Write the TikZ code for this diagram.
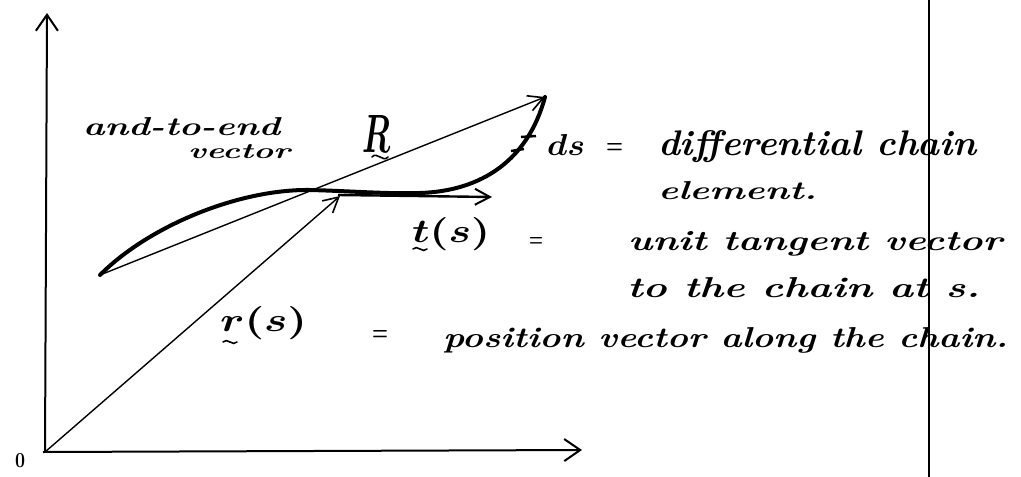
\documentclass[tikz,border=0pt]{standalone}
\usepackage{graphicx}
\usetikzlibrary{arrows.meta}
\newcommand\hw[3]{\resizebox{#1pt}{#2pt}{\bfseries\itshape #3}}
\newcommand\hm[3]{\resizebox{#1pt}{#2pt}{\boldmath$#3$}}
\tikzset{
  txt/.style={inner sep=0pt, outer sep=0pt, anchor=base west},
  axisline/.style={line width=2pt, -{Straight Barb[length=16pt,width=22pt,line width=2pt]}},
  thinvec/.style={line width=1.4pt, -{Straight Barb[length=15pt,width=16pt,line width=1.6pt]}},
  tanvec/.style={line width=2.4pt, -{Straight Barb[length=15pt,width=16pt,line width=2pt]}},
  chainline/.style={line width=4pt, line cap=round, line join=round},
  tickmark/.style={line width=2.5pt},
  tildemark/.style={line width=1.6pt, line cap=round},
}
\begin{document}
\begin{tikzpicture}[x=1pt,y=-1pt]
\useasboundingbox (0,0) rectangle (1021,477);
% coordinates
\coordinate (O) at (45,452);
\coordinate (Xstart) at (43,452);
\coordinate (Ytip) at (47,13);
\coordinate (Xtip) at (582,450);
\coordinate (rtip) at (340,196);
\coordinate (Rstart) at (100,275);
\coordinate (Rtip) at (545,97);
\coordinate (tstart) at (338,195);
\coordinate (ttip) at (492,197);
\coordinate (Ltop) at (929,0);
\coordinate (Lbot) at (929,477);
\coordinate (c1) at (310,190);
\coordinate (c2) at (420,193);
% axes
\draw[axisline] (O) -- (Ytip);
\draw[axisline] (Xstart) -- (Xtip);
\draw[line width=1.5pt] (Ltop) -- (Lbot);
% vectors
\draw[thinvec] (O) -- (rtip);
\draw[thinvec] (Rstart) -- (Rtip);
% chain
\draw[chainline] (Rstart) .. controls (150,225) and (240,189) .. (c1)
  .. controls (350,191) and (385,194) .. (c2)
  .. controls (482,191) and (528,160) .. (Rtip);
\draw[tanvec] (tstart) -- (ttip);
% ds ticks
\draw[tickmark] (521,137) -- (536,136);
\draw[tickmark] (511,151) -- (524,149);
% labels
\node[txt] (o) at (15,467) {\resizebox{10pt}{14pt}{\bfseries 0}};
\node[txt] (ete) at (83,135) {\hw{197}{18}{and-to-end}};
\node[txt] (etev) at (188,158) {\hw{102}{14}{vector}};
\node[txt] (R) at (362,152) {\hm{28}{37}{R}};
\node[txt] (ds) at (547,155) {\hm{38}{21}{ds}};
\node[txt] (eq1) at (606,153) {\resizebox{17pt}{10pt}{\bfseries =}};
\node[txt] (diff) at (658,155) {\hw{319}{25}{differential chain}};
\node[txt] (elem) at (658,199) {\hw{159}{18}{element.}};
\node[txt] (ts) at (412,242) {\hm{78}{25}{t(s)}};
\node[txt] (eq2) at (529,246) {\resizebox{14pt}{9pt}{\bfseries =}};
\node[txt] (unit) at (628,250) {\hw{374}{19}{unit tangent vector}};
\node[txt] (tochain) at (627,297) {\hw{353}{20}{to the chain at s.}};
\node[txt] (rs) at (220,331) {\hm{87}{25}{r(s)}};
\node[txt] (eq3) at (372,340) {\resizebox{16pt}{10pt}{\bfseries =}};
\node[txt] (pos) at (443,347) {\hw{565}{20}{position vector along the chain.}};
% under-tildes (vector marks)
\draw[tildemark] ([xshift=10pt,yshift=-5pt]R.base west) .. controls +(5,-6) and +(-5,6) .. +(16,0);
\draw[tildemark] ([xshift=1pt,yshift=-7pt]ts.base west) .. controls +(4,-5) and +(-4,5) .. +(14,0);
\draw[tildemark] ([xshift=3pt,yshift=-11pt]rs.base west) .. controls +(4,-5) and +(-4,5) .. +(14,0);
\end{tikzpicture}
\end{document}
